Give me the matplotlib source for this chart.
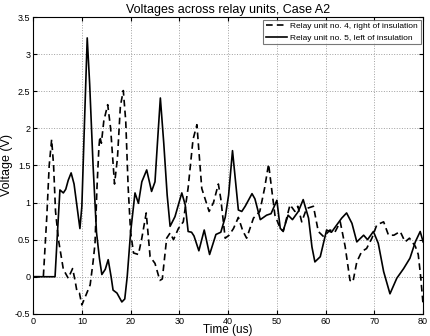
import matplotlib
matplotlib.use('Agg')
import matplotlib.pyplot as plt

plt.rcParams['font.family'] = ['Liberation Sans', 'DejaVu Sans']

# relay unit no. 5 (solid)
t5 = [0, 4.5, 5.0, 5.5, 6.2, 6.7, 7.2, 7.8, 8.4, 8.9, 9.6, 10.0, 10.5, 11.1, 11.6,
      12.3, 13.0, 13.6, 14.1, 14.8, 15.4, 16.0, 16.4, 17.2, 18.2, 18.8, 19.3, 20.0,
      20.9, 21.6, 22.3, 23.3, 24.3, 25.0, 25.5, 26.1, 26.8, 27.5, 28.1, 29.1, 30.5,
      31.2, 31.8, 32.5, 33.0, 34.0, 35.1, 36.2, 37.5, 38.5, 39.4, 40.1, 40.9, 41.5,
      42.1, 42.8, 43.5, 44.9, 45.5, 46.6, 47.9, 48.8, 50.0, 50.7, 51.3, 52.3, 53.2,
      54.4, 55.4, 56.5, 57.2, 57.8, 58.9, 60.2, 61.2, 62.3, 63.3, 64.3, 65.4, 66.4,
      67.8, 68.6, 69.8, 70.8, 71.9, 73.2, 74.6, 76.0, 77.3, 78.4, 79.4, 80.0]
v5 = [0, 0, 0.6, 1.17, 1.13, 1.18, 1.3, 1.4, 1.25, 1.0, 0.65, 0.95, 2.0, 3.22, 2.6,
      1.5, 0.6, 0.25, 0.03, 0.1, 0.23, 0.0, -0.18, -0.22, -0.34, -0.3, 0.0, 0.6,
      1.13, 0.99, 1.28, 1.44, 1.15, 1.28, 1.8, 2.41, 1.8, 1.1, 0.68, 0.81, 1.13,
      0.97, 0.61, 0.6, 0.55, 0.35, 0.63, 0.3, 0.57, 0.6, 0.8, 1.1, 1.7, 1.3,
      0.9, 0.88, 0.95, 1.12, 1.05, 0.77, 0.83, 0.85, 1.03, 0.65, 0.62, 0.83, 0.77,
      0.88, 1.04, 0.79, 0.4, 0.2, 0.27, 0.63, 0.6, 0.7, 0.79, 0.86, 0.72, 0.47,
      0.56, 0.5, 0.61, 0.45, 0.07, -0.23, -0.02, 0.11, 0.25, 0.47, 0.61, 0.47]

# relay unit no. 4 (dashed)
t4 = [0, 2.1, 2.8, 3.3, 3.8, 4.2, 4.6, 5.2, 6.2, 7.2, 8.1, 8.6, 9.0, 9.5, 10.0,
      10.7, 11.7, 12.3, 12.7, 13.1, 13.5, 13.7, 14.0, 14.5, 15.3, 15.9, 16.7, 17.3,
      17.9, 18.5, 19.0, 19.5, 20.0, 20.6, 21.6, 22.3, 23.2, 24.0, 25.0, 26.0, 26.5,
      27.4, 28.1, 28.8, 29.8, 30.8, 31.8, 32.8, 33.6, 34.0, 34.6, 36.1, 37.0, 38.0,
      38.5, 39.4, 40.2, 41.1, 42.1, 43.0, 43.8, 45.2, 46.5, 47.5, 48.3, 48.9, 49.6,
      50.7, 51.3, 52.7, 53.7, 54.3, 55.1, 56.1, 57.5, 58.5, 59.6, 60.9, 61.9, 63.0,
      64.0, 65.0, 65.6, 66.4, 67.4, 68.4, 69.5, 70.5, 71.9, 72.9, 74.0, 75.3, 76.3,
      77.2, 78.4, 79.0, 79.5, 80.0]
v4 = [0, 0, 0.8, 1.5, 1.85, 1.5, 0.88, 0.5, 0.1, -0.02, 0.11, -0.05, -0.2, -0.22, -0.38,
      -0.27, -0.11, 0.2, 0.45, 1.2, 1.75, 1.89, 1.8, 2.1, 2.32, 2.0, 1.25, 1.6,
      2.3, 2.51, 2.1, 1.2, 0.6, 0.32, 0.3, 0.52, 0.86, 0.27, 0.18, -0.05, -0.03,
      0.52, 0.59, 0.5, 0.65, 0.74, 1.2, 1.85, 2.05, 1.7, 1.19, 0.88, 1.0, 1.25,
      1.05, 0.52, 0.56, 0.65, 0.8, 0.62, 0.52, 0.79, 0.88, 1.2, 1.52, 1.2, 0.83,
      0.65, 0.61, 0.97, 0.88, 0.95, 0.74, 0.92, 0.95, 0.61, 0.54, 0.63, 0.6, 0.74,
      0.41, -0.05, -0.07, 0.2, 0.34, 0.38, 0.52, 0.7, 0.74, 0.56, 0.56, 0.61, 0.47,
      0.52, 0.41, 0.3, 0.0, -0.38]

fig = plt.figure(figsize=(4.3, 3.36), dpi=100)
ax = fig.add_axes([0.077, 0.066, 0.907, 0.883])

ax.plot(t4, v4, 'k--', lw=1.2, dashes=(4, 2.5), label='Relay unit no. 4, right of insulation')
ax.plot(t5, v5, 'k-', lw=1.2, label='Relay unit no. 5, left of insulation')

ax.set_xlim(0, 80)
ax.set_ylim(-0.5, 3.5)
ax.set_xticks(range(0, 81, 10))
ax.set_yticks([-0.5, 0, 0.5, 1, 1.5, 2, 2.5, 3, 3.5])
ax.set_yticklabels(['-0.5', '0', '0.5', '1', '1.5', '2', '2.5', '3', '3.5'])
ax.tick_params(direction='in', length=3, labelsize=6.5, top=True, right=True, pad=2)
ax.grid(True, linestyle=':', color='#a0a0a0', lw=0.7)

ax.set_title('Voltages across relay units, Case A2', fontsize=9, pad=3)
ax.set_xlabel('Time (us)', fontsize=8.5, labelpad=-1)
ax.set_ylabel('Voltage (V)', fontsize=9, labelpad=1)

leg = ax.legend(loc='upper right', fontsize=6, fancybox=False, edgecolor='#555555',
                handlelength=2.6, borderpad=0.35, labelspacing=0.4, handletextpad=0.3,
                borderaxespad=0.3)
leg.get_frame().set_linewidth(0.8)

fig.savefig('out.png', dpi=100)
